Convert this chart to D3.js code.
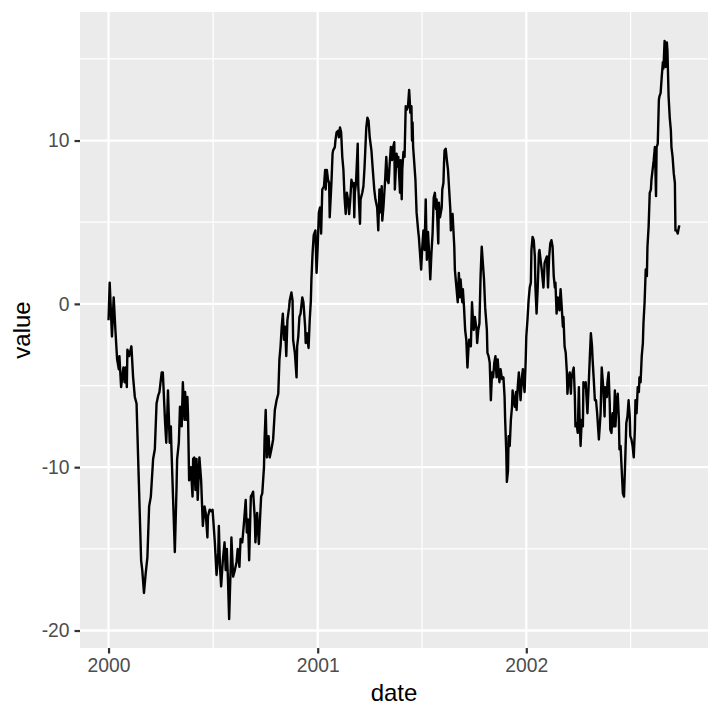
<!DOCTYPE html>
<html lang="en">
 <head>
 <meta http-equiv="Content-Type" content="text/html; charset=UTF-8">
        <title>value by date</title>
        <script type="text/javascript" src="https://unpkg.com/d3@7/dist/d3.min.js"></script>
        <style>
          body { margin: 0; background: #ffffff; }
          text { font-family: "Liberation Sans", Arial, sans-serif; }
        </style>
 </head>

 <body>
        <script type="text/javascript">

          // days after 2000-01-01
          var startDate = Date.UTC(2000, 0, 1);
          var dayOffsets = [
            0, 2, 6, 9, 12, 15, 18, 19, 22, 26,
            28, 30, 32, 33, 36, 40, 43, 46, 49, 53,
            57, 59, 62, 65, 68, 71, 74, 78, 81, 84,
            87, 89, 91, 93, 95, 99, 101, 103, 104, 107,
            109, 110, 113, 116, 119, 120, 123, 125, 128, 130,
            133, 134, 136, 138, 139, 141, 144, 147, 148, 150,
            152, 154, 156, 159, 162, 165, 168, 170, 173, 174,
            177, 180, 182, 186, 189, 192, 193, 195, 197, 200,
            203, 205, 207, 209, 211, 214, 215, 218, 221, 224,
            226, 229, 231, 234, 237, 240, 242, 244, 246, 249,
            252, 253, 256, 257, 260, 263, 265, 267, 269, 272,
            273, 275, 277, 280, 282, 285, 288, 291, 294, 297,
            299, 301, 303, 305, 307, 309, 311, 313, 316, 317,
            320, 322, 323, 326, 329, 330, 332, 334, 336, 339,
            341, 344, 345, 347, 350, 352, 354, 355, 357, 359,
            362, 364, 366, 368, 370, 372, 374, 377, 379, 380,
            382, 384, 386, 387, 390, 392, 393, 396, 397, 399,
            402, 403, 405, 407, 409, 411, 413, 415, 417, 419,
            421, 423, 425, 427, 429, 430, 431, 433, 436, 437,
            440, 441, 444, 446, 448, 451, 453, 455, 457, 460,
            462, 465, 467, 470, 472, 474, 476, 478, 479, 481,
            484, 486, 488, 490, 492, 494, 496, 498, 500, 501,
            504, 506, 507, 510, 511, 513, 514, 516, 518, 520,
            522, 524, 526, 527, 528, 530, 531, 532, 533, 535,
            537, 539, 542, 543, 545, 547, 549, 551, 553, 555,
            557, 559, 561, 563, 565, 567, 569, 571, 573, 574,
            577, 578, 580, 583, 584, 586, 587, 588, 590, 592,
            594, 596, 598, 599, 601, 602, 605, 606, 608, 611,
            613, 615, 616, 619, 620, 622, 624, 626, 628, 630,
            631, 634, 636, 638, 639, 641, 644, 645, 647, 649,
            651, 653, 655, 657, 659, 662, 663, 665, 667, 669,
            671, 673, 675, 677, 679, 681, 682, 684, 686, 688,
            689, 691, 693, 694, 696, 697, 699, 700, 702, 704,
            706, 707, 709, 711, 713, 714, 716, 718, 720, 721,
            723, 725, 727, 728, 730, 731, 733, 735, 737, 739,
            740, 742, 744, 746, 747, 749, 751, 753, 754, 756,
            758, 761, 763, 765, 767, 769, 771, 773, 775, 777,
            779, 781, 782, 784, 786, 788, 789, 791, 793, 795,
            796, 798, 800, 802, 803, 805, 807, 809, 810, 812,
            814, 816, 817, 819, 821, 823, 824, 826, 828, 830,
            831, 833, 835, 836, 838, 840, 842, 844, 846, 847,
            849, 851, 853, 855, 858, 861, 863, 866, 868, 869,
            872, 873, 875, 877, 878, 880, 882, 884, 886, 887,
            889, 891, 893, 894, 896, 898, 900, 902, 904, 906,
            908, 910, 912, 913, 915, 917, 919, 921, 922, 924,
            926, 928, 929, 931, 933, 935, 936, 938, 940, 942,
            943, 945, 947, 949, 950, 952, 954, 956, 958, 959,
            961, 963, 964, 966, 968, 970, 971, 973, 975, 977,
            978, 980, 982, 984, 985, 987, 989, 991, 992, 994,
            996, 998, 999
          ];

          var values = [
            -1.0, 1.3, -2.0, 0.4, -1.6, -3.4, -4.0, -3.2, -5.1, -3.9,
            -4.8, -3.9, -5.1, -2.8, -3.2, -2.6, -4.5, -5.7, -6.1, -10.9,
            -15.7, -16.3, -17.7, -16.5, -15.5, -12.4, -11.8, -9.5, -8.9, -6.1,
            -5.6, -5.4, -4.8, -4.2, -4.2, -7.3, -8.5, -6.5, -5.3, -8.5,
            -7.5, -8.8, -12.0, -15.2, -11.2, -9.5, -8.5, -6.3, -7.5, -4.8,
            -7.1, -5.4, -7.1, -5.7, -6.7, -10.8, -10.0, -11.8, -9.5, -9.4,
            -11.4, -9.5, -12.0, -9.4, -10.8, -13.6, -12.4, -12.8, -14.3, -13.0,
            -12.6, -12.7, -12.6, -14.6, -16.6, -15.2, -13.6, -16.1, -17.3, -15.7,
            -14.6, -16.3, -15.0, -16.9, -19.3, -15.8, -14.3, -16.7, -16.3, -15.8,
            -15.0, -16.1, -14.4, -14.6, -13.4, -12.0, -14.0, -13.2, -15.7, -11.8,
            -11.6, -11.5, -13.2, -14.6, -12.8, -14.7, -13.2, -11.8, -11.6, -10.0,
            -8.3, -6.5, -9.4, -8.1, -9.4, -8.9, -8.3, -6.5, -5.9, -5.5,
            -3.4, -2.6, -1.4, -0.6, -2.2, -1.4, -3.2, -1.0, -0.2, 0.2,
            0.7, 0.2, -2.2, -3.0, -4.5, -2.6, -2.0, -0.8, -0.6, 0.4,
            0.1, -1.4, -2.4, -1.8, -2.7, -1.0, 0.2, 1.5, 3.1, 4.2,
            4.5, 1.9, 3.5, 5.6, 5.9, 4.3, 7.0, 7.2, 8.2, 7.0,
            8.2, 7.6, 7.4, 5.3, 7.4, 9.2, 9.4, 9.6, 10.0, 10.5,
            10.6, 10.2, 10.8, 10.5, 9.0, 8.2, 6.5, 5.5, 6.8, 6.4,
            5.5, 6.4, 7.6, 7.2, 7.4, 5.3, 6.8, 7.4, 9.8, 7.2,
            4.9, 6.4, 6.8, 7.2, 8.4, 10.8, 11.4, 11.2, 10.2, 9.4,
            8.4, 7.0, 6.4, 5.9, 4.5, 7.0, 5.6, 7.2, 5.1, 5.9,
            7.6, 9.0, 7.6, 7.4, 8.6, 9.6, 8.8, 9.6, 9.9, 7.0,
            9.2, 8.4, 9.0, 6.8, 8.8, 6.4, 8.2, 9.3, 9.0, 12.1,
            11.9, 12.1, 13.1, 12.5, 11.7, 12.1, 10.0, 11.1, 9.6, 8.6,
            7.6, 5.6, 4.4, 4.1, 3.1, 2.1, 3.5, 4.5, 3.3, 6.4,
            2.7, 4.4, 3.1, 1.5, 3.1, 4.3, 6.5, 6.8, 5.8, 6.4,
            3.7, 6.2, 5.3, 5.9, 7.0, 7.4, 8.6, 9.4, 9.5, 8.8,
            8.2, 7.0, 5.8, 4.5, 5.3, 5.5, 3.5, 2.1, 1.3, 0.1,
            1.9, 0.4, 1.5, 0.1, 0.9, -0.2, -1.6, -2.2, -3.9, -2.6,
            -2.2, -2.6, 0.1, -1.2, -1.6, -0.8, -1.6, -2.4, -1.6, -1.2,
            1.7, 3.5, 2.5, 1.5, -0.2, -1.6, -3.0, -3.2, -3.6, -5.9,
            -4.2, -4.5, -3.6, -3.2, -4.5, -3.4, -3.9, -4.8, -4.0, -4.5,
            -4.6, -4.5, -5.7, -7.1, -9.1, -10.9, -10.2, -8.1, -8.7, -7.1,
            -6.3, -5.3, -5.9, -6.3, -5.4, -6.5, -5.1, -4.2, -5.4, -5.9,
            -4.6, -4.0, -5.1, -5.4, -3.4, -2.0, -1.0, 0.2, 1.0, 1.3,
            3.3, 4.1, 3.9, 2.9, 1.0, -0.6, 1.0, 3.1, 3.3, 2.7,
            2.1, 1.0, 2.5, 2.7, 2.9, 1.0, 2.9, 3.7, 3.9, 3.5,
            1.7, 1.0, 1.3, -0.6, 0.4, 0.1, -0.4, 0.9, -0.2, -1.4,
            -0.8, -2.6, -3.0, -4.2, -5.5, -4.6, -4.2, -5.5, -4.6, -4.2,
            -3.9, -5.7, -7.5, -7.3, -7.9, -5.1, -6.7, -8.7, -7.1, -7.5,
            -4.8, -5.1, -4.8, -5.5, -6.7, -5.1, -3.4, -1.8, -2.6, -3.4,
            -4.6, -5.9, -5.9, -6.7, -8.3, -6.7, -3.9, -5.3, -6.9, -5.1,
            -5.7, -4.8, -4.2, -6.1, -7.7, -7.9, -6.7, -7.5, -5.3, -7.5,
            -6.1, -5.5, -7.1, -8.9, -8.7, -10.2, -11.6, -11.8, -9.7, -7.3,
            -6.9, -5.9, -6.9, -8.1, -8.3, -8.7, -9.4, -7.7, -5.9, -6.7,
            -5.1, -5.4, -4.5, -4.8, -3.2, -2.4, -1.2, 0.1, 2.1, 1.7,
            3.5, 4.7, 6.8, 7.0, 7.6, 8.2, 8.8, 9.6, 6.6, 9.6,
            9.8, 12.5, 12.7, 12.9, 13.9, 14.8, 14.4, 16.1, 14.5, 16.0,
            15.5, 12.7, 11.4, 10.6, 9.6, 9.0, 8.0, 7.4, 4.5, 4.5,
            4.3, 4.7, 4.8
          ];

          var xTickYears = [2000, 2001, 2002];
          var yTicks = [-20, -10, 0, 10];
          var yMinorTicks = [-15, -5, 5, 15];
          var xTitle = "date";
          var yTitle = "value";

          var width = 720;
          var height = 720;
          var panel = { left: 80, right: 708, top: 12, bottom: 648 };

          var data = dayOffsets.map( (d, i) => ( { date: new Date(startDate + d * 86400000), value: values[i] } ) );

          var svg = d3.select("body")
                      .append("svg")
                      .attr("width", width)
                      .attr("height", height);

          // ggplot style 5% expansion on both scales
          var xExt = d3.extent(data, (d) => d.date.getTime());
          var xPad = (xExt[1] - xExt[0]) * 0.05;
          var x = d3.scaleUtc()
                    .domain([ new Date(xExt[0] - xPad), new Date(xExt[1] + xPad) ])
                    .range([panel.left, panel.right]);

          var yExt = d3.extent(values);
          var yPad = (yExt[1] - yExt[0]) * 0.05;
          var y = d3.scaleLinear()
                    .domain([yExt[0] - yPad, yExt[1] + yPad])
                    .range([panel.bottom, panel.top]);

          var xTicks = xTickYears.map( (yr) => new Date(Date.UTC(yr, 0, 1)) );
          var xMinor = [];
          for (var i = 0; i < xTicks.length; i++) {
            var next = new Date(Date.UTC(xTickYears[i] + 1, 0, 1));
            var mid = new Date((xTicks[i].getTime() + next.getTime()) / 2);
            if (mid <= x.domain()[1]) xMinor.push(mid);
          }

          // panel background
          svg.append("rect")
             .attr("x", panel.left)
             .attr("y", panel.top)
             .attr("width", panel.right - panel.left)
             .attr("height", panel.bottom - panel.top)
             .style("fill", "#EBEBEB");

          var grid = svg.append("g");

          grid.selectAll(".yminor")
              .data(yMinorTicks.filter( (v) => v >= y.domain()[0] && v <= y.domain()[1] ))
              .enter()
              .append("line")
              .attr("x1", panel.left).attr("x2", panel.right)
              .attr("y1", (d) => y(d)).attr("y2", (d) => y(d))
              .style("stroke", "white").style("stroke-width", 1.2);

          grid.selectAll(".xminor")
              .data(xMinor)
              .enter()
              .append("line")
              .attr("y1", panel.top).attr("y2", panel.bottom)
              .attr("x1", (d) => x(d)).attr("x2", (d) => x(d))
              .style("stroke", "white").style("stroke-width", 1.2);

          grid.selectAll(".ymajor")
              .data(yTicks)
              .enter()
              .append("line")
              .attr("x1", panel.left).attr("x2", panel.right)
              .attr("y1", (d) => y(d)).attr("y2", (d) => y(d))
              .style("stroke", "white").style("stroke-width", 2.3);

          grid.selectAll(".xmajor")
              .data(xTicks)
              .enter()
              .append("line")
              .attr("y1", panel.top).attr("y2", panel.bottom)
              .attr("x1", (d) => x(d)).attr("x2", (d) => x(d))
              .style("stroke", "white").style("stroke-width", 2.3);

          // the series
          var line = d3.line()
                       .x( (d) => x(d.date) )
                       .y( (d) => y(d.value) );

          svg.append("path")
             .datum(data)
             .attr("d", line)
             .style("fill", "none")
             .style("stroke", "black")
             .style("stroke-width", 2.4)
             .style("stroke-linejoin", "round");

          // axes
          var xAxis = d3.axisBottom(x)
                        .tickValues(xTicks)
                        .tickFormat(d3.utcFormat("%Y"))
                        .tickSize(5.5)
                        .tickPadding(5);

          // plain hyphen for negatives, like the original
          var yAxis = d3.axisLeft(y)
                        .tickValues(yTicks)
                        .tickFormat( (d) => String(d) )
                        .tickSize(5.5)
                        .tickPadding(5);

          var gx = svg.append("g")
                      .attr("transform", "translate(0," + panel.bottom + ")")
                      .call(xAxis);

          var gy = svg.append("g")
                      .attr("transform", "translate(" + panel.left + ",0)")
                      .call(yAxis);

          [gx, gy].forEach( function(g) {
            g.select(".domain").remove();
            g.selectAll(".tick line").style("stroke", "#333333").style("stroke-width", 2.2);
            g.selectAll(".tick text")
             .style("fill", "#4D4D4D")
             .style("font-size", "19.3px")
             .style("font-family", "'Liberation Sans', Arial, sans-serif");
          } );

          gx.selectAll(".tick text").attr("dy", "0.72em");

          // titles
          svg.append("text")
             .attr("x", (panel.left + panel.right) / 2)
             .attr("y", 701)
             .attr("text-anchor", "middle")
             .style("font-size", "24px")
             .style("fill", "black")
             .text(xTitle);

          svg.append("text")
             .attr("transform", "translate(29.5," + ((panel.top + panel.bottom) / 2) + ") rotate(-90)")
             .attr("text-anchor", "middle")
             .style("font-size", "24px")
             .style("fill", "black")
             .text(yTitle);

        </script>
    </body>
</html>
